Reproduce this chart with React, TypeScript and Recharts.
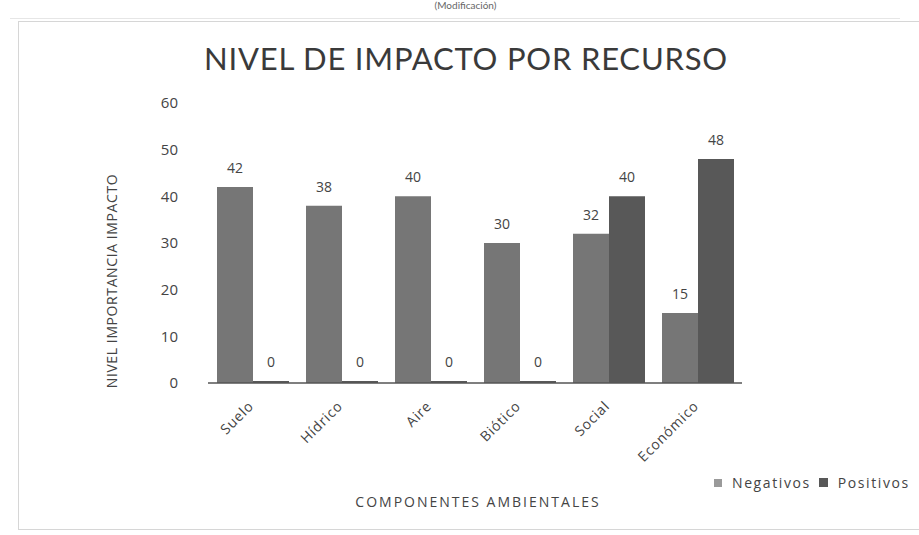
import React from 'react';
import { BarChart, Bar, XAxis, YAxis, LabelList } from 'recharts';

const categories = ['Suelo', 'Hídrico', 'Aire', 'Biótico', 'Social', 'Económico'];
const negativos = [42, 38, 40, 30, 32, 15];
const positivos = [0, 0, 0, 0, 40, 48];
const yTicks = [0, 10, 20, 30, 40, 50, 60];

const data = categories.map((c, i) => ({ name: c, Negativos: negativos[i], Positivos: positivos[i] }));

const NEG = '#767676';
const POS = '#585858';
const TEXT = '#444';
const FONT = 'Lato, "Open Sans", sans-serif';
const WIDE = '"Open Sans", Lato, sans-serif';

const XTick = (props: any) => {
  const { x, y, payload } = props;
  return (
    <g transform={`translate(${x + 2},${y + 16})`}>
      <text x={0} y={0} textAnchor="end" transform="rotate(-45)" fontSize={14} fill={TEXT} fontFamily={WIDE} letterSpacing={0.8}>
        {payload.value}
      </text>
    </g>
  );
};

const XTitle = (props: any) => {
  const vb = props.viewBox;
  return (
    <text x={vb.x + vb.width / 2 + 3} y={507} textAnchor="middle" fontSize={14} fill={TEXT} fontFamily={WIDE} letterSpacing={2}>
      COMPONENTES AMBIENTALES
    </text>
  );
};

const YTitle = (props: any) => {
  const vb = props.viewBox;
  const cx = 117;
  const cy = vb.y + vb.height / 2 + 38;
  return (
    <text x={cx} y={cy} textAnchor="middle" transform={`rotate(-90 ${cx} ${cy})`} fontSize={14} fill={TEXT} fontFamily={WIDE} letterSpacing={0.6}>
      NIVEL IMPORTANCIA IMPACTO
    </text>
  );
};

export default function App() {
  return (
    <div style={{ position: 'absolute', left: 0, top: 0, width: 919, height: 535, background: '#fff', overflow: 'hidden', fontFamily: FONT }}>
      <div style={{ position: 'absolute', left: 0, right: 0, top: 0, textAlign: 'center', fontSize: 10, lineHeight: '11px', color: '#666', paddingLeft: 12 }}>
        (Modificación)
      </div>
      <div style={{ position: 'absolute', left: 10, top: 18, width: 890, height: 0, borderTop: '1px solid #e6e6e6' }} />
      <div style={{ position: 'absolute', left: 18, top: 21, width: 920, height: 507, border: '1px solid #d6d6d6' }} />
      <div style={{ position: 'absolute', left: 0, width: 932, top: 38, textAlign: 'center', fontSize: 31, color: '#3a3a3a', fontFamily: FONT, letterSpacing: 0.8, lineHeight: '40px' }}>
        NIVEL DE IMPACTO POR RECURSO
      </div>
      <div style={{ position: 'absolute', left: 0, top: 0 }}>
        <BarChart width={919} height={535} data={data} margin={{ top: 103, right: 177, left: 100, bottom: 92 }} barGap={0} barSize={36}>
          <XAxis dataKey="name" height={60} tick={<XTick />} tickLine={false} axisLine={{ stroke: '#555', strokeWidth: 1.5 }} interval={0} label={<XTitle />} />
          <YAxis domain={[0, 60]} ticks={yTicks} width={108} axisLine={false} tickLine={false} tickSize={0} tickMargin={30} tick={{ fontSize: 15, fill: TEXT, fontFamily: WIDE }} label={<YTitle />} />
          <Bar dataKey="Negativos" fill={NEG} isAnimationActive={false} minPointSize={2}>
            <LabelList dataKey="Negativos" position="top" offset={14} fontSize={14} fill={TEXT} fontFamily={WIDE} />
          </Bar>
          <Bar dataKey="Positivos" fill={POS} isAnimationActive={false} minPointSize={2}>
            <LabelList dataKey="Positivos" position="top" offset={14} fontSize={14} fill={TEXT} fontFamily={WIDE} />
          </Bar>
        </BarChart>
      </div>
      <div style={{ position: 'absolute', left: 714, top: 473, display: 'flex', alignItems: 'center', fontSize: 14, color: TEXT, fontFamily: WIDE, letterSpacing: 1.6, whiteSpace: 'nowrap' }}>
        <span style={{ display: 'inline-block', width: 8, height: 8, background: '#9a9a9a', marginRight: 10 }} />
        <span>Negativos</span>
        <span style={{ display: 'inline-block', width: 9, height: 9, background: POS, marginLeft: 8, marginRight: 10 }} />
        <span>Positivos</span>
      </div>
    </div>
  );
}
